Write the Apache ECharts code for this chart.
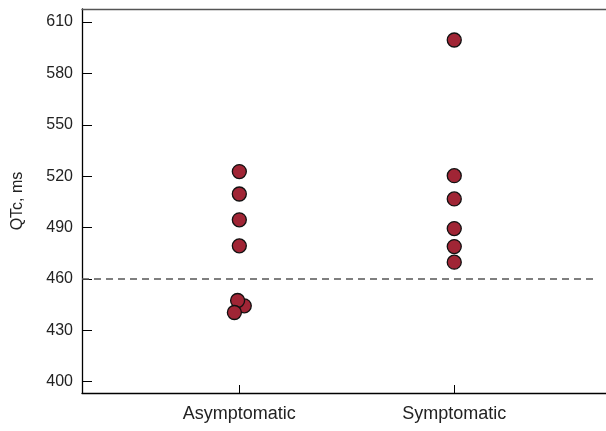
<!DOCTYPE html>
<html>
<head>
<meta charset="utf-8">
<script src="https://cdn.jsdelivr.net/npm/echarts@6/dist/echarts.min.js"></script>
<style>
  html, body { margin: 0; padding: 0; background: #fff; }
  #chart { width: 606px; height: 431px; }
</style>
</head>
<body>
<div id="chart"></div>
<script>
// groups on the x axis (1 = Asymptomatic, 2 = Symptomatic)
const categories = ['Asymptomatic', 'Symptomatic'];
// each point: [x position (with small jitter), QTc ms]
const asymptomatic = [
  [1, 522.7], [1, 509.6], [1, 494.5], [1, 479.3],
  [1.023, 444.3], [0.992, 447.4], [0.977, 440.4]
];
const symptomatic = [
  [2, 599.5], [2, 520.3], [2, 506.7], [2, 489.4], [2, 478.9], [2, 469.8]
];
const yTicks = [400, 430, 460, 490, 520, 550, 580, 610];
const cutoff = 460;

const chart = echarts.init(document.getElementById('chart'));

const dotStyle = {
  color: '#a02535',
  borderColor: '#111',
  borderWidth: 1.3,
  opacity: 1
};

chart.setOption({
  animation: false,
  grid: { left: 82, right: 0, top: 9, bottom: 38 },
  xAxis: [{
    type: 'value',
    min: 0.268,
    max: 2.706,
    splitLine: { show: false },
    axisLine: { show: true, lineStyle: { color: '#000', width: 1.3 } },
    // negative length draws the ticks into the plot
    axisTick: { show: true, length: -8, customValues: [1, 2], lineStyle: { color: '#000' } },
    axisLabel: {
      customValues: [1, 2],
      formatter: v => categories[Math.round(v) - 1],
      color: '#222', fontSize: 18, fontFamily: 'Liberation Sans', margin: 12
    }
  }, {
    type: 'value',
    position: 'top',
    min: 0.268,
    max: 2.706,
    splitLine: { show: false },
    axisLine: { show: true, lineStyle: { color: '#555', width: 1.3 } },
    axisTick: { show: false },
    axisLabel: { show: false }
  }],
  yAxis: {
    type: 'value',
    min: 393.4,
    max: 617.6,
    name: 'QTc, ms',
    nameLocation: 'middle',
    nameGap: 56,
    nameTextStyle: { color: '#222', fontSize: 16, fontFamily: 'Liberation Sans' },
    splitLine: { show: false },
    axisLine: { show: true, lineStyle: { color: '#000', width: 1.3 } },
    axisTick: { show: true, length: -10, customValues: yTicks, lineStyle: { color: '#000' } },
    axisLabel: {
      customValues: yTicks,
      color: '#222', fontSize: 16, fontFamily: 'Liberation Sans', margin: 9
    }
  },
  series: [{
    name: 'Asymptomatic',
    type: 'scatter',
    data: asymptomatic,
    symbolSize: 14,
    itemStyle: dotStyle,
    markLine: {
      silent: true,
      symbol: 'none',
      label: { show: false },
      lineStyle: { color: '#555', type: [7, 5], width: 1.5 },
      data: [[{ coord: [0.268, cutoff] }, { coord: [2.668, cutoff] }]]
    }
  }, {
    name: 'Symptomatic',
    type: 'scatter',
    data: symptomatic,
    symbolSize: 14,
    itemStyle: dotStyle
  }]
});
</script>
</body>
</html>
